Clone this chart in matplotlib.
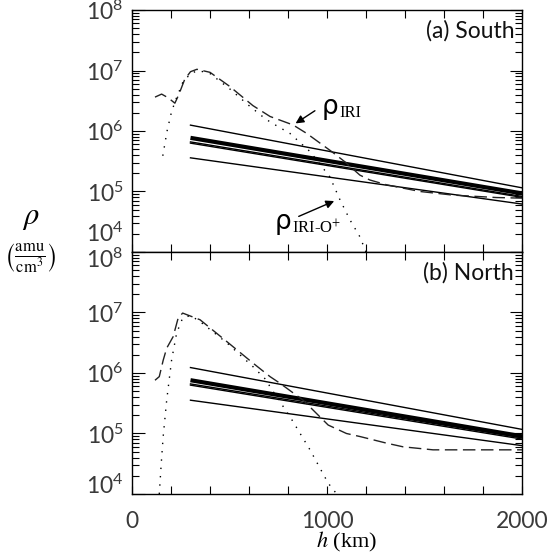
import numpy as np
import matplotlib
matplotlib.use("Agg")
import matplotlib.pyplot as plt
from matplotlib.ticker import LogLocator, NullFormatter
from matplotlib.transforms import ScaledTranslation

plt.rcParams['mathtext.fontset'] = 'stix'

# straight fits (start at 300 km, end at 2000 km)
h_fit = [300, 2000]
fit_s = [[1.25e6, 1.15e5], [6.6e5, 8.3e4], [6.3e5, 8.0e4], [3.6e5, 6.2e4]]
fit_s_thick = [7.7e5, 9.3e4]
fit_n = [[1.23e6, 1.17e5], [6.6e5, 8.5e4], [6.3e5, 8.1e4], [3.55e5, 6.3e4]]
fit_n_thick = [7.6e5, 9.0e4]

# (a) South, rho_IRI (dashed) and rho_IRI-O+ (dotted), log10 values
h_iri_s = [118, 152, 185, 220, 240, 270, 300, 333, 400, 500, 620, 708, 826, 896,
           1024, 1092, 1169, 1220, 1306, 1477, 1646, 1870, 2000]
lg_iri_s = [6.56, 6.61, 6.55, 6.46, 6.60, 6.85, 6.98, 7.02, 6.97, 6.74, 6.42, 6.24, 6.10, 5.96,
            5.66, 5.49, 5.27, 5.19, 5.11, 5.00, 4.94, 4.90, 4.89]
h_o_s = [158, 180, 203, 225, 260, 300, 340, 400, 500, 600, 673, 708, 810, 913,
         1015, 1067, 1118, 1169, 1200]
lg_o_s = [5.59, 6.00, 6.32, 6.52, 6.80, 6.95, 7.00, 6.95, 6.70, 6.42, 6.23, 6.15, 5.96, 5.66,
          5.24, 4.86, 4.53, 4.25, 4.00]

# (b) North
h_iri_n = [118, 140, 160, 178, 211, 237, 260, 349, 486, 622, 708, 759, 878, 1006,
           1100, 1169, 1306, 1390, 1544, 2000]
lg_iri_n = [5.88, 5.94, 6.21, 6.41, 6.60, 6.91, 6.99, 6.88, 6.52, 6.16, 5.94, 5.83, 5.55, 5.14,
            5.00, 4.95, 4.84, 4.78, 4.73, 4.73]
h_o_n = [140, 150, 160, 178, 203, 229, 260, 300, 349, 486, 622, 690, 708, 810, 913, 1006, 1050]
lg_o_n = [4.00, 4.50, 4.95, 5.55, 6.21, 6.66, 6.91, 6.95, 6.85, 6.50, 6.10, 5.88, 5.77, 5.28,
          4.73, 4.18, 4.00]

panels = ["(a) South", "(b) North"]
yticks = [1e4, 1e5, 1e6, 1e7, 1e8]
ytick_labels = [r"$\mathdefault{10^{%d}}$" % e for e in range(4, 9)]
xtick_labels = ["0", "", "", "", "", "1000", "", "", "", "", "2000"]

fig = plt.figure(figsize=(5.55, 5.56), dpi=100)
ax1 = fig.add_axes([0.2378, 0.5468, 0.7027, 0.4352])
ax2 = fig.add_axes([0.2378, 0.1115, 0.7027, 0.4353])

tick_font = dict(family="Lato", size=16.5, color="#3a3a3a")

data = [(ax1, fit_s, fit_s_thick, h_iri_s, lg_iri_s, h_o_s, lg_o_s),
        (ax2, fit_n, fit_n_thick, h_iri_n, lg_iri_n, h_o_n, lg_o_n)]

for i, (ax, fits, thick, hi, li, ho, lo) in enumerate(data):
    for f in fits:
        ax.plot(h_fit, f, color="k", lw=1.0)
    ax.plot(h_fit, thick, color="k", lw=3.0, solid_capstyle="butt")
    ax.plot(hi, 10 ** np.array(li), color="#222222", lw=1.0, dashes=(9, 4))
    ax.plot(ho, 10 ** np.array(lo), color="k", lw=1.0, dashes=(1, 5))

    ax.set_yscale("log")
    ax.set_xlim(0, 2000)
    ax.set_ylim(1e4, 1e8)
    ax.set_yticks(yticks)
    ax.set_yticklabels(ytick_labels, fontdict=tick_font)
    ax.yaxis.set_minor_locator(LogLocator(base=10, subs=np.arange(2, 10)))
    ax.yaxis.set_minor_formatter(NullFormatter())
    ax.set_xticks(np.arange(0, 2001, 200))
    ax.tick_params(axis="both", which="major", direction="in", top=True, right=True,
                   length=6, width=0.8, pad=6)
    ax.tick_params(axis="y", which="major", length=9)
    ax.tick_params(axis="y", which="minor", direction="in", right=True, length=5, width=0.8)
    for s in ax.spines.values():
        s.set_linewidth(1.0)
    ax.text(0.98, 0.915, panels[i], transform=ax.transAxes, ha="right", va="center",
            family="Lato", size=16.5, color="#111111")

ax1.set_xticklabels([])
ax2.set_xticklabels(xtick_labels, fontdict=tick_font)
ax2.tick_params(axis="x", pad=12)

# nudge the crowded labels at the panel join
lab = ax1.get_yticklabels()
lab[0].set_transform(lab[0].get_transform() + ScaledTranslation(0, 20 / 100, fig.dpi_scale_trans))
lab = ax2.get_yticklabels()
lab[0].set_transform(lab[0].get_transform() + ScaledTranslation(0, 10 / 100, fig.dpi_scale_trans))
lab[-1].set_transform(lab[-1].get_transform() + ScaledTranslation(0, -6 / 100, fig.dpi_scale_trans))

# curve labels
ax1.annotate("", xy=(827, 10 ** 6.10), xytext=(950, 10 ** 6.36),
             arrowprops=dict(arrowstyle="-|>", lw=1.0, color="k", mutation_scale=12))
ax1.text(1015, 10 ** 6.40, "ρ", family="DejaVu Sans", size=19, ha="center", va="center")
ax1.text(1065, 10 ** 6.30, "IRI", family="Liberation Serif", size=12, ha="left", va="center")
ax1.annotate("", xy=(1050, 10 ** 4.86), xytext=(842, 10 ** 4.57),
             arrowprops=dict(arrowstyle="-|>", lw=1.0, color="k", mutation_scale=12))
ax1.text(776, 10 ** 4.50, "ρ", family="DejaVu Sans", size=19, ha="center", va="center")
ax1.text(822, 10 ** 4.40, r"IRI-O$^{+}$", family="Liberation Serif", size=12,
         ha="left", va="center")

# axis labels
fig.text(0.055, 0.608, r"$\rho$", size=22, ha="center", va="center")
fig.text(0.055, 0.535, r"$\left(\frac{\mathrm{amu}}{\mathrm{cm}^3}\right)$", size=17,
         ha="center", va="center")
fig.text(0.625, 0.004, r"$h$ (km)", family="Liberation Serif", size=16,
         ha="center", va="bottom")

fig.savefig("out.png", dpi=100)
